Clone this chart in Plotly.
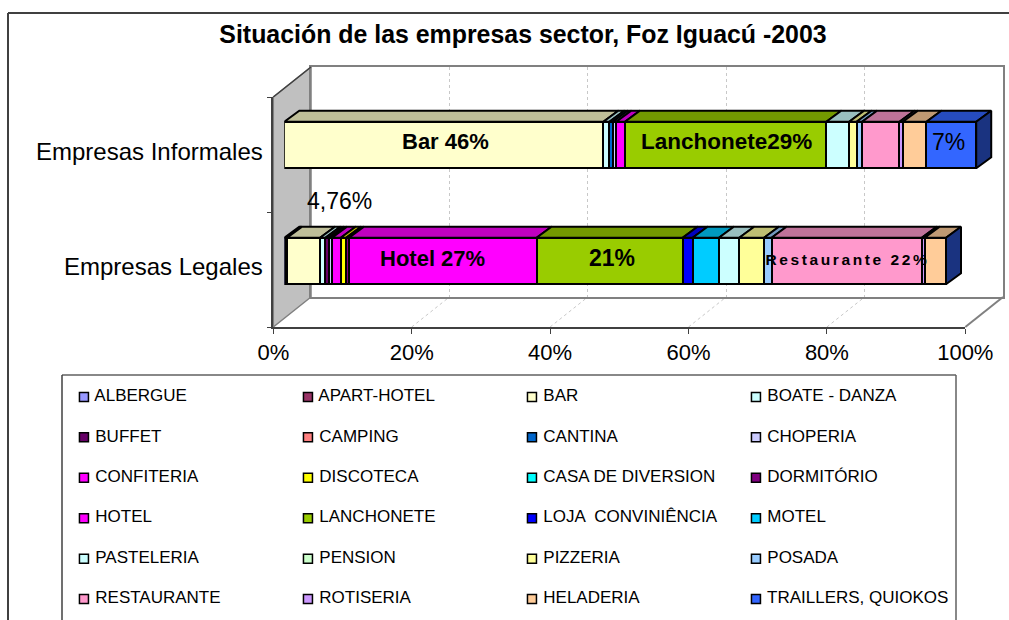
import numpy as np
import plotly.graph_objects as go

W, H = 1009, 620
FONT = "Liberation Sans"

categories = ["Empresas Legales", "Empresas Informales"]
series_names = ["ALBERGUE", "APART-HOTEL", "BAR", "BOATE - DANZA", "BUFFET", "CAMPING", "CANTINA", "CHOPERIA",
                "CONFITERIA", "DISCOTECA", "CASA DE DIVERSION", "DORMITÓRIO", "HOTEL", "LANCHONETE",
                "LOJA  CONVINIÊNCIA", "MOTEL", "PASTELERIA", "PENSION", "PIZZERIA", "POSADA",
                "RESTAURANTE", "ROTISERIA", "HELADERIA", "TRAILLERS, QUIOKOS"]
legales = [0.2, 0.2, 4.76, 0.77, 0.5, 0, 0, 0.47, 1.25, 0.77, 0, 0.43, 27.1, 21.1, 1.45, 3.8, 2.94, 0, 3.57, 1.1,
           21.7, 0.43, 3.08, 0]
informales = [0, 0, 46.1, 0.87, 0, 0, 0.5, 0.5, 1.25, 0, 0, 0, 0, 29.1, 0, 0, 3.3, 0, 1.07, 0.8,
              5.4, 0.5, 3.4, 7.2]
colors = ["#9999FF", "#993366", "#FFFFCC", "#CCFFFF", "#660066", "#FF8080", "#0066CC", "#CCCCFF",
          "#FF00FF", "#FFFF00", "#00FFFF", "#800080", "#FF00FF", "#99CC00",
          "#0000FF", "#00CCFF", "#CCFFFF", "#CCFFCC", "#FFFF99", "#99CCFF",
          "#FF99CC", "#CC99FF", "#FFCC99", "#3366FF"]
tick_values = [0, 20, 40, 60, 80, 100]
tick_labels = ["0%", "20%", "40%", "60%", "80%", "100%"]


def px(x):
    return x / W


def py(y):
    return 1 - y / H


def shade(color, f):
    r, g, b = [int(color[i:i + 2], 16) for i in (1, 3, 5)]
    return f"rgb({r * f:.0f},{g * f:.0f},{b * f:.0f})"


BAR_WIDTH = 0.4
DEPTH_X = 15 / 6.92  # depth of the bars, in axis units
DEPTH_Y = 11 / 116
OUTLINE = dict(color="black", width=2)

fig = go.Figure()

# back wall gridlines live on x/y, front axis on x2/y2
fig.add_trace(go.Scatter(x=[0, 100], y=[0, 1], mode="markers", marker=dict(opacity=0), hoverinfo="skip",
                         showlegend=False, xaxis="x", yaxis="y"))
fig.add_trace(go.Scatter(x=[0, 100], y=[0, 1], mode="markers", marker=dict(opacity=0), hoverinfo="skip",
                         showlegend=False, xaxis="x2", yaxis="y2"))

# stacked bars
for name, a, b, color in zip(series_names, legales, informales, colors):
    fig.add_trace(go.Bar(y=[0, 1], x=[a, b], name=name, orientation="h", width=BAR_WIDTH,
                         marker=dict(color=color, line=OUTLINE), showlegend=False,
                         xaxis="x3", yaxis="y3"))

# top faces of the bars, taken from the stacked values
for row, vals in enumerate([legales, informales]):
    ends = np.cumsum(vals)
    top = row + BAR_WIDTH / 2
    for v, end, color in zip(vals, ends, colors):
        if v == 0:
            continue
        start = end - v
        fig.add_trace(go.Scatter(
            x=[start, end, end + DEPTH_X, start + DEPTH_X, start],
            y=[top, top, top + DEPTH_Y, top + DEPTH_Y, top],
            mode="lines", fill="toself", fillcolor=shade(color, 0.75), line=OUTLINE,
            hoverinfo="skip", showlegend=False, xaxis="x3", yaxis="y3"))
    # right end of the bar
    end = ends[-1]
    bottom = row - BAR_WIDTH / 2
    fig.add_trace(go.Scatter(
        x=[end, end + DEPTH_X, end + DEPTH_X, end, end],
        y=[top, top + DEPTH_Y, bottom + DEPTH_Y, bottom, top],
        mode="lines", fill="toself", fillcolor=shade(colors[-1], 0.5), line=OUTLINE,
        hoverinfo="skip", showlegend=False, xaxis="x3", yaxis="y3"))

# legend, 4 columns
rows, cols = np.divmod(np.arange(len(series_names)), 4)
fig.add_trace(go.Scatter(
    x=cols, y=rows, mode="markers+text", text=[" " + s for s in series_names], textposition="middle right",
    textfont=dict(family=FONT, size=17, color="black"),
    marker=dict(symbol="square", size=9, color=colors, line=dict(color="black", width=1.5)),
    cliponaxis=False, hoverinfo="skip", showlegend=False, xaxis="x4", yaxis="y4"))

# walls and floor edges
shapes = [
    dict(type="path", xref="paper", yref="paper", layer="below", fillcolor="#C0C0C0",
         line=dict(color="#808080", width=1.5),
         path=f"M{px(273.3)},{py(97)} L{px(311)},{py(67)} L{px(311)},{py(297)} L{px(273.3)},{py(327)} Z"),
    dict(type="line", xref="paper", yref="paper", x0=px(965.3), y0=py(327), x1=px(1003), y1=py(297),
         line=dict(color="#808080", width=2)),
    dict(type="line", xref="paper", yref="paper", x0=px(273.3), y0=py(97), x1=px(311), y1=py(67),
         line=dict(color="#404040", width=1.5)),
    # chart frame
    dict(type="line", xref="paper", yref="paper", x0=px(8), y0=py(13), x1=1, y1=py(13),
         line=dict(color="#404040", width=2)),
    dict(type="line", xref="paper", yref="paper", x0=px(8), y0=py(13), x1=px(8), y1=0,
         line=dict(color="#404040", width=2)),
    # legend box
    dict(type="line", xref="paper", yref="paper", x0=px(62), y0=py(375), x1=px(956), y1=py(375),
         line=dict(color="#606060", width=1.5)),
    dict(type="line", xref="paper", yref="paper", x0=px(62), y0=py(375), x1=px(62), y1=0,
         line=dict(color="#404040", width=1.5)),
    dict(type="line", xref="paper", yref="paper", x0=px(956), y0=py(375), x1=px(956), y1=0,
         line=dict(color="#606060", width=1.5)),
]
for t in tick_values[1:-1]:
    fig_x0 = 273.3 + t * 6.92
    shapes.append(dict(type="line", xref="paper", yref="paper", layer="below",
                       x0=px(fig_x0), y0=py(327), x1=px(fig_x0 + 37.7), y1=py(297),
                       line=dict(color="#C8C8C8", width=1, dash="dot")))

# data labels
labels = [
    ("Bar 46%", 445, 142, 22, True),
    ("Lanchonete29%", 726, 142, 22.5, True),
    ("7%", 948, 142, 23, False),
    ("Hotel 27%", 432, 258, 22, True),
    ("21%", 612, 258, 23, True),
    ("Restaurante 22%", 847, 259, 15.5, True),
    ("4,76%", 339, 201, 23, False),
]
annotations = [dict(text=f"<b>{t}</b>" if bold else t, x=px(x), y=py(y), xref="paper", yref="paper", showarrow=False,
                    xanchor="center", yanchor="middle", font=dict(family=FONT, size=s, color="black"))
               for t, x, y, s, bold in labels]

fig.update_layout(
    width=W, height=H, margin=dict(l=0, r=0, t=0, b=0),
    paper_bgcolor="white", plot_bgcolor="rgba(0,0,0,0)",
    barmode="stack", bargap=0.6, hovermode=False,
    font=dict(family=FONT, color="black"),
    title=dict(text="<b>Situación de las empresas sector, Foz Iguacú -2003</b>", x=523 / W, xanchor="center",
               y=py(34), yanchor="middle", font=dict(family=FONT, size=24.9, color="black")),
    shapes=shapes, annotations=annotations,
    # back wall
    xaxis=dict(domain=[px(311), px(1003)], range=[0, 100], tickvals=tick_values, showticklabels=False,
               showgrid=True, gridcolor="#C8C8C8", griddash="dot", gridwidth=1, zeroline=False, automargin=False,
               showline=True, mirror=True, linecolor="#808080", linewidth=2, anchor="y"),
    yaxis=dict(domain=[py(297), py(67)], range=[0, 1], showticklabels=False, showgrid=False, zeroline=False,
               automargin=False, showline=True, mirror=True, linecolor="#808080", linewidth=2, anchor="x"),
    # front axes with the labels
    xaxis2=dict(domain=[px(273.3), px(965.3)], range=[0, 100], tickvals=tick_values, ticktext=tick_labels,
                ticks="outside", ticklen=5, tickcolor="#404040", showgrid=False, zeroline=False, automargin=False,
                showline=True, linecolor="#404040", linewidth=2, anchor="y2",
                tickfont=dict(family=FONT, size=22, color="black")),
    yaxis2=dict(domain=[py(327), py(97)], range=[-0.5, 1.5], tickvals=[0, 1], ticktext=categories,
                ticks="", showgrid=False, zeroline=False, showline=True, linecolor="#404040", linewidth=1.5,
                automargin=False, anchor="x2", tickfont=dict(family=FONT, size=24, color="black"),
                ticklabelstandoff=4, ticklabelshift=-3,
                minor=dict(tickvals=[-0.5, 0.5, 1.5], ticks="outside", ticklen=5, tickcolor="#404040")),
    # bar plane, a little wider than 100% so the end faces are not clipped
    xaxis3=dict(domain=[px(284.3), px(284.3 + 6.92 * 104)], range=[0, 104], visible=False, anchor="y3",
                automargin=False),
    yaxis3=dict(domain=[py(319), py(87)], range=[-0.5, 1.5], visible=False, anchor="x3", automargin=False),
    # legend grid
    xaxis4=dict(domain=[px(62), px(956)], range=[-0.098, 3.893], visible=False, anchor="y4", automargin=False),
    yaxis4=dict(domain=[0, py(376)], range=[5.517, -0.517], visible=False, anchor="x4", automargin=False),
)

# page margin off, wide tracking on the small label as in the original
post = """
document.documentElement.style.overflow = 'hidden';
document.body.style.margin = '0';
document.querySelectorAll('text.annotation-text').forEach(function (t) {
    if (t.textContent.indexOf('Restaurante') === 0) { t.style.letterSpacing = '2.6px'; }
});
"""
fig.write_html("out.html", post_script=post, config=dict(displayModeBar=False))
